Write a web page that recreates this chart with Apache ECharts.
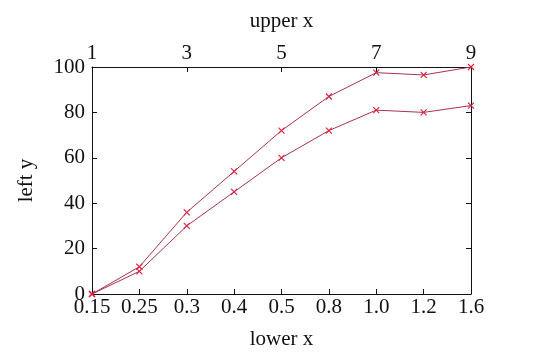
<!DOCTYPE html>
<html><head><meta charset="utf-8">
<script src="https://cdn.jsdelivr.net/npm/echarts@6/dist/echarts.min.js"></script>
<style>html,body{margin:0;padding:0;background:#fff}#c{width:540px;height:364px}</style>
</head><body><div id="c"></div>
<script>
const lowerX = ['0.15','0.25','0.3','0.4','0.5','0.8','1.0','1.2','1.6'];
const seriesA = [0, 12, 36, 54, 72, 87, 97.5, 96.5, 100];
const seriesB = [0, 10, 30, 45, 60, 72, 81, 80, 83];
const upperMin = 1, upperMax = 9, upperStep = 2;
const yMin = 0, yMax = 100, yStep = 20;

const font = 'Liberation Serif';
const txt = {color:'#111', fontFamily:font, fontSize:21};
const axisLine = {show:true, onZero:false, lineStyle:{color:'#111', width:1}};
const tick = {show:true, inside:true, length:5, lineStyle:{color:'#111', width:1}};
const lineColor = '#a8334c';
const markColor = '#d9203f';
const mk = (name, data) => ({
  name, type:'line', data, xAxisIndex:0, yAxisIndex:0,
  symbol:'path://M0,0L10,10M10,0L0,10', symbolSize:6, showAllSymbol:true,
  lineStyle:{color:lineColor, width:1},
  itemStyle:{color:'none', borderColor:markColor, borderWidth:1.1},
  emphasis:{disabled:true}, animation:false
});
const chart = echarts.init(document.getElementById('c'), null, {renderer:'canvas'});
chart.setOption({
  animation:false,
  grid:{left:92, right:69, top:67, bottom:70, show:false},
  xAxis:[
    {type:'category', data:lowerX, boundaryGap:false, position:'bottom',
     name:'lower x', nameLocation:'middle', nameGap:35, nameTextStyle:txt,
     axisLine, axisTick:{...tick, alignWithLabel:true, interval:0},
     axisLabel:{...txt, margin:3, interval:0}, splitLine:{show:false}},
    {type:'value', min:upperMin, max:upperMax, interval:upperStep, position:'top',
     name:'upper x', nameLocation:'middle', nameGap:35, nameTextStyle:txt,
     axisLine, axisTick:tick, axisLabel:{...txt, margin:3}, splitLine:{show:false}}
  ],
  yAxis:[
    {type:'value', min:yMin, max:yMax, interval:yStep, position:'left',
     name:'left y', nameLocation:'middle', nameGap:55, nameRotate:90, nameTextStyle:txt,
     axisLine, axisTick:tick, axisLabel:{...txt, margin:7}, splitLine:{show:false}},
    {type:'value', min:yMin, max:yMax, interval:yStep, position:'right',
     axisLine, axisTick:tick, axisLabel:{show:false}, splitLine:{show:false}}
  ],
  series:[mk('A', seriesA), mk('B', seriesB)]
});
</script></body></html>
